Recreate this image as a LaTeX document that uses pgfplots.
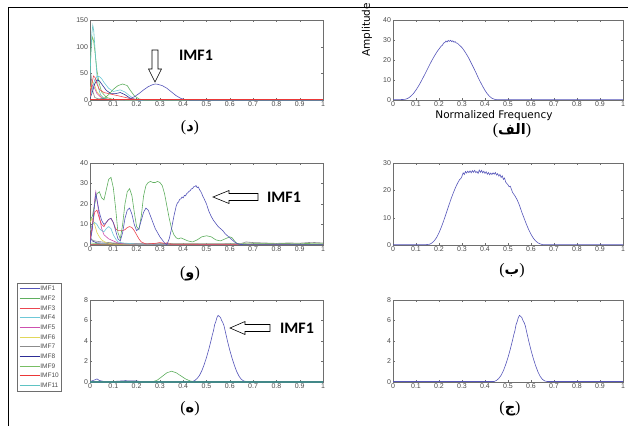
\documentclass[border=0pt]{standalone}
\usepackage{pgfplots}
\pgfplotsset{compat=1.18}
\usepackage{fontspec}
\setmainfont{Liberation Sans}
\newfontfamily\arabicfont[Script=Arabic]{DejaVu Sans}
\newfontfamily\carlito{Carlito}
\newfontfamily\dejavu{DejaVu Sans}
\newfontfamily\serif{Liberation Serif}
\TeXXeTstate=1

\definecolor{c1}{RGB}{85,85,185}
\definecolor{c2}{RGB}{95,175,95}
\definecolor{c3}{RGB}{235,70,80}
\definecolor{c4}{RGB}{110,200,215}
\definecolor{c5}{RGB}{205,80,175}
\definecolor{c6}{RGB}{225,215,90}
\definecolor{c7}{RGB}{140,140,140}
\definecolor{c8}{RGB}{45,45,150}
\definecolor{c9}{RGB}{120,190,100}
\definecolor{c10}{RGB}{235,55,55}
\definecolor{c11}{RGB}{95,195,195}
\definecolor{axgray}{RGB}{110,110,110}
\definecolor{lblgray}{RGB}{75,75,75}

\pgfplotsset{
  matlab/.style={
    scale only axis, anchor=north west,
    xmin=0, xmax=1,
    xtick={0,0.1,0.2,0.3,0.4,0.5,0.6,0.7,0.8,0.9,1},
    xticklabels={0,0.1,0.2,0.3,0.4,0.5,0.6,0.7,0.8,0.9,1},
    axis line style={draw=axgray, line width=0.4pt},
    tick style={draw=axgray, line width=0.3pt},
    major tick length=2.2pt,
    tick align=inside,
    tick label style={font=\fontsize{7}{8}\selectfont, text=lblgray},
    /pgf/number format/assume math mode=true,
    yticklabel style={xshift=1.5pt},
    xticklabel style={yshift=1.5pt},
  },
  wide/.style={width=233pt},
  right/.style={width=230pt},
}

% caption of a panel: (letter)
\newcommand{\fig}[1]{{\serif\fontsize{16}{18}\selectfont(}{\arabicfont\bfseries\fontsize{14.5}{16}\selectfont\beginR #1\endR}{\serif\fontsize{16}{18}\selectfont)}}

\begin{document}
\begin{tikzpicture}[x=1pt,y=1pt]
\useasboundingbox (0,0) rectangle (628,-426);
\draw[line width=1pt] (8,-426) -- (8,-7) -- (628,-7);

%% top left (د)
\begin{axis}[matlab, wide, at={(90pt,-20pt)}, height=80pt,
  ymin=0, ymax=150, ytick={0,50,100,150}]
\addplot[c7, line width=0.6pt] coordinates {(0,60)(0.005,45)(0.01,20)(0.02,5)(0.04,1)(0.1,0)(1,0)};
\addplot[c6, line width=0.6pt] coordinates {(0,20)(0.01,35)(0.02,28)(0.03,15)(0.05,5)(0.08,1)(0.12,0)(1,0)};
\addplot[c5, line width=0.6pt] coordinates {(0,10)(0.01,28)(0.02,22)(0.03,12)(0.05,4)(0.08,1)(0.12,0)(1,0)};
\addplot[c9, line width=0.6pt] coordinates {(0,50)(0.005,100)(0.01,118)(0.015,112)(0.02,95)(0.03,55)(0.04,30)(0.05,15)(0.07,5)(0.1,1)(0.15,0)(1,0)};
\addplot[c11, line width=0.6pt] coordinates {(0,40)(0.004,90)(0.008,125)(0.012,140)(0.016,130)(0.02,105)(0.025,75)(0.03,45)(0.035,25)(0.045,10)(0.06,3)(0.08,0.5)(0.12,0)(1,0)};
\addplot[c8, line width=0.6pt] coordinates {(0,3)(0.01,15)(0.02,30)(0.03,38)(0.04,36)(0.05,30)(0.07,18)(0.09,12)(0.11,12)(0.13,14)(0.15,10)(0.17,4)(0.19,1)(0.21,0)(1,0)};
\addplot[c4, line width=0.6pt] coordinates {(0,5)(0.01,20)(0.02,38)(0.03,44)(0.04,44)(0.05,40)(0.06,33)(0.08,22)(0.1,16)(0.12,18)(0.13,19)(0.15,15)(0.17,8)(0.19,2)(0.21,0)(1,0)};
\addplot[c3, line width=0.6pt] coordinates {(0,5)(0.008,30)(0.015,45)(0.022,42)(0.03,30)(0.04,20)(0.06,14)(0.08,12)(0.1,10)(0.12,8)(0.14,6)(0.17,3)(0.2,1)(0.25,0.3)(1,0.3)};
\addplot[c2, line width=0.6pt] coordinates {(0,0)(0.06,3)(0.08,10)(0.1,20)(0.12,27)(0.14,30)(0.16,27)(0.17,20)(0.19,8)(0.21,2)(0.23,0)(1,0)};
\addplot[c1, line width=0.6pt] coordinates {(0,0.5)(0.02,1)(0.05,2)(0.1,1)(0.15,0.5)(0.17,2)(0.19,6)(0.21,12)(0.23,19)(0.25,25)(0.27,29)(0.28,30)(0.29,29.5)(0.31,27)(0.33,22)(0.35,15)(0.37,8)(0.39,3)(0.41,0.5)(0.43,0)(1,0)};
\addplot[c10, line width=1.1pt] coordinates {(0,0.5)(0.1,0.5)(0.5,0.5)(1,0.5)};
\end{axis}

%% top right (الف)
\begin{axis}[matlab, right, at={(393pt,-20pt)}, height=80pt,
  ymin=0, ymax=40, ytick={0,10,20,30,40}]
\addplot[c1, line width=0.6pt] coordinates {(0,0.2)(0.03,0.2)(0.05,0.3)(0.06,0.6)(0.07,1.2)(0.08,2.2)(0.09,3.4)(0.1,5)(0.11,6.8)(0.12,8.8)(0.13,11)(0.14,13.2)(0.15,15.5)(0.16,17.8)(0.17,20)(0.18,22)(0.19,23.9)(0.2,25.5)(0.21,27)(0.215,27.4)(0.22,28.5)(0.225,28.7)(0.23,29.5)(0.235,29.0)(0.24,29.8)(0.245,29.3)(0.25,29.9)(0.255,29.2)(0.26,29.6)(0.265,28.9)(0.27,29.2)(0.275,28.5)(0.28,28.4)(0.29,27.3)(0.3,26.2)(0.31,24.6)(0.32,22.8)(0.33,20.8)(0.34,18.5)(0.35,16.2)(0.36,13.8)(0.37,11.3)(0.38,9)(0.39,6.8)(0.4,4.8)(0.41,3.1)(0.42,1.8)(0.43,0.9)(0.44,0.4)(0.45,0.2)(1,0.2)};
\end{axis}
\node[rotate=90, font=\dejavu\fontsize{10.5}{12}\selectfont] at (367,-30) {Amplitude};
\node[font=\dejavu\fontsize{10.5}{12}\selectfont] at (494,-116) {Normalized Frequency};

%% middle left (و)
\begin{axis}[matlab, wide, at={(90pt,-163pt)}, height=82pt,
  ymin=0, ymax=40, ytick={0,10,20,30,40}]
\addplot[c11, line width=0.6pt] coordinates {(0,0.2)(1,0.2)};
\addplot[c10, line width=0.6pt] coordinates {(0,0.3)(0.3,0.5)(0.33,1)(0.36,0.5)(1,0.3)};
\addplot[c9, line width=0.6pt] coordinates {(0,1)(0.05,0.5)(0.64,0.5)(0.68,1)(0.72,0.8)(0.8,0.7)(0.9,0.8)(1,0.6)};
\addplot[c8, line width=0.6pt] coordinates {(0,4)(0.01,2)(0.03,1)(0.1,0.8)(0.2,0.6)(0.3,0.3)(1,0.2)};
\addplot[c7, line width=0.6pt] coordinates {(0,3)(0.02,2)(0.05,1.5)(0.1,1)(0.2,0.6)(0.4,0.5)(0.6,0.6)(0.65,0.8)(0.67,1.5)(0.7,1.2)(0.75,1)(0.8,0.8)(0.85,1)(0.9,0.9)(0.95,1.3)(1,1)};
\addplot[c6, line width=0.6pt] coordinates {(0,11)(0.01,13)(0.02,10)(0.03,6)(0.04,4)(0.05,2.5)(0.07,1)(0.1,0.5)(1,0.3)};
\addplot[c5, line width=0.6pt] coordinates {(0,2)(0.01,8)(0.02,22)(0.025,26)(0.03,22)(0.04,14)(0.05,8)(0.06,5)(0.08,3)(0.1,2)(0.12,1)(0.15,0.5)(1,0.2)};
\addplot[c4, line width=0.6pt] coordinates {(0,7)(0.01,10)(0.02,11)(0.03,10)(0.04,8)(0.05,7)(0.06,6.5)(0.07,8)(0.08,9)(0.09,8)(0.1,5)(0.11,3)(0.12,1.5)(0.14,1)(0.2,0.5)(1,0.3)};
\addplot[c3, line width=0.6pt] coordinates {(0,2)(0.01,10)(0.02,16)(0.03,17)(0.04,13)(0.05,10)(0.06,9)(0.07,11)(0.08,12.5)(0.09,13)(0.1,11)(0.11,8)(0.12,7)(0.13,7)(0.14,7)(0.15,7.5)(0.16,8.5)(0.17,9)(0.18,8.5)(0.19,7)(0.2,5)(0.21,3)(0.22,1.5)(0.24,0.5)(0.28,0.8)(0.3,1.2)(0.32,0.8)(0.35,0.3)(0.5,0.3)(1,0.3)};
\addplot[c2, line width=0.6pt] coordinates {(0,12)(0.01,14)(0.02,20)(0.03,25)(0.04,26)(0.05,23)(0.06,22)(0.07,27)(0.08,32)(0.09,33)(0.1,28)(0.11,18)(0.12,6)(0.13,3)(0.14,10)(0.15,20)(0.16,26)(0.17,27.5)(0.18,24)(0.19,16)(0.2,9)(0.21,7.5)(0.22,14)(0.23,24)(0.24,29)(0.25,30.5)(0.26,31)(0.27,30.5)(0.28,30.5)(0.29,31)(0.3,30.5)(0.31,29)(0.32,25)(0.33,19)(0.34,13)(0.35,8)(0.36,5)(0.37,3.5)(0.38,3)(0.39,3.5)(0.4,3)(0.42,2)(0.44,1.5)(0.46,2.5)(0.48,4)(0.5,4.5)(0.52,4)(0.54,2.5)(0.56,2)(0.58,3)(0.6,4)(0.61,3.5)(0.62,2)(0.63,0.8)(0.65,0.3)(0.7,0.5)(1,0.3)};
\addplot[c1, line width=0.6pt] coordinates {(0,0.5)(0.01,8)(0.02,20)(0.025,25)(0.03,22)(0.04,16)(0.05,12)(0.06,10)(0.07,11)(0.08,12.5)(0.09,13)(0.1,11)(0.11,7)(0.12,3)(0.13,2)(0.14,6)(0.15,13)(0.16,17)(0.17,18)(0.18,15)(0.19,10)(0.2,7)(0.21,8)(0.22,12)(0.23,16)(0.24,18)(0.25,17)(0.26,14)(0.27,11)(0.28,8)(0.29,6)(0.3,4)(0.31,2.5)(0.32,1)(0.33,0.2)(0.34,3)(0.35,8)(0.36,14)(0.365,16.5)(0.37,19)(0.375,20.5)(0.38,21)(0.385,22.3)(0.39,22.5)(0.395,23.4)(0.4,23)(0.405,24.2)(0.41,24)(0.415,25.1)(0.42,25.5)(0.425,26.2)(0.43,26.5)(0.435,27.4)(0.44,27.5)(0.445,28.4)(0.45,28.5)(0.455,29)(0.46,28)(0.465,28.3)(0.47,27)(0.475,26.2)(0.48,25)(0.485,23.6)(0.49,22.5)(0.5,20)(0.51,16.5)(0.52,14)(0.53,12)(0.54,10.5)(0.55,9)(0.56,8)(0.57,7)(0.58,5.5)(0.59,4.5)(0.6,3.5)(0.61,2.5)(0.62,1.5)(0.63,0.8)(0.64,0.3)(0.66,0.2)(1,0.2)};
\end{axis}

%% middle right (ب)
\begin{axis}[matlab, right, at={(393pt,-163pt)}, height=82pt,
  ymin=0, ymax=30, ytick={0,10,20,30}]
\addplot[c1, line width=0.6pt] coordinates {(0,0.1)(0.14,0.1)(0.16,0.3)(0.17,0.8)(0.18,1.6)(0.19,2.8)(0.2,4.5)(0.21,6.5)(0.22,8.8)(0.23,11.3)(0.24,13.8)(0.25,16.3)(0.26,18.6)(0.27,20.7)(0.28,22.5)(0.29,24)(0.295,24.3)(0.3,25.2)(0.305,26.4)(0.31,25.8)(0.315,26.9)(0.32,26.3)(0.325,27)(0.33,26.5)(0.335,27.1)(0.34,26.4)(0.345,27.2)(0.35,26.6)(0.355,27.3)(0.36,26.5)(0.365,26.9)(0.37,26.2)(0.375,27.4)(0.38,26.6)(0.385,27.3)(0.39,26.4)(0.395,27)(0.4,26.2)(0.405,26.8)(0.41,25.9)(0.415,26.5)(0.42,25.7)(0.425,26.3)(0.43,25.8)(0.435,26.4)(0.44,25.9)(0.445,26.5)(0.45,25.6)(0.455,26.1)(0.46,25.2)(0.465,25.8)(0.47,24.7)(0.475,25.3)(0.48,24)(0.485,24.5)(0.49,23)(0.5,22)(0.505,21.3)(0.51,21.5)(0.52,19.2)(0.53,18)(0.54,16.5)(0.55,14.5)(0.56,12)(0.57,9.8)(0.58,7.6)(0.59,5.6)(0.6,3.9)(0.61,2.5)(0.62,1.5)(0.63,0.8)(0.64,0.4)(0.65,0.15)(1,0.1)};
\end{axis}

%% bottom left (ه)
\begin{axis}[matlab, wide, at={(90pt,-300pt)}, height=82pt,
  ymin=0, ymax=8, ytick={0,2,4,6,8}]
\addplot[c8, line width=0.6pt] coordinates {(0,0.03)(0.1,0.05)(0.15,0.12)(0.2,0.1)(0.22,0.03)(1,0.03)};
\addplot[c2, line width=0.6pt] coordinates {(0,0.02)(0.27,0.02)(0.29,0.2)(0.31,0.55)(0.33,0.9)(0.35,1.05)(0.37,0.9)(0.39,0.6)(0.41,0.3)(0.43,0.1)(0.45,0.02)(1,0.02)};
\addplot[c1, line width=0.6pt] coordinates {(0,0.05)(0.02,0.2)(0.03,0.3)(0.04,0.15)(0.06,0.05)(0.44,0.05)(0.45,0.15)(0.46,0.35)(0.47,0.65)(0.48,1.1)(0.49,1.7)(0.5,2.4)(0.51,3.2)(0.52,4.1)(0.525,4.6)(0.53,5.0)(0.535,5.6)(0.54,5.9)(0.545,6.3)(0.55,6.5)(0.555,6.4)(0.56,6.3)(0.565,6.0)(0.57,5.8)(0.575,5.5)(0.58,5.0)(0.59,4.0)(0.6,3.1)(0.61,2.3)(0.62,1.6)(0.63,1.0)(0.64,0.55)(0.65,0.25)(0.66,0.1)(0.67,0.05)(1,0.05)};
\addplot[c11!70!black, line width=1.1pt] coordinates {(0,0)(0.5,0)(1,0)};
\end{axis}

%% bottom right (ج)
\begin{axis}[matlab, right, at={(393pt,-300pt)}, height=82pt,
  ymin=0, ymax=8, ytick={0,2,4,6,8}]
\addplot[c1, line width=0.6pt] coordinates {(0,0.05)(0.44,0.05)(0.45,0.15)(0.46,0.35)(0.47,0.65)(0.48,1.1)(0.49,1.7)(0.5,2.4)(0.51,3.2)(0.52,4.1)(0.525,4.6)(0.53,5.0)(0.535,5.6)(0.54,5.9)(0.545,6.3)(0.55,6.5)(0.555,6.4)(0.56,6.3)(0.565,6.0)(0.57,5.8)(0.575,5.5)(0.58,5.0)(0.59,4.0)(0.6,3.1)(0.61,2.3)(0.62,1.6)(0.63,1.0)(0.64,0.55)(0.65,0.25)(0.66,0.1)(0.67,0.05)(1,0.05)};
\end{axis}

%% legend
\begin{axis}[at={(17pt,-283pt)}, anchor=north west, hide axis, scale only axis,
  width=10pt, height=10pt, xmin=0, xmax=1, ymin=0, ymax=1,
  legend style={at={(0,1)}, anchor=north west, draw=axgray, line width=0.4pt,
    font=\fontsize{6.5}{7}\selectfont, text=lblgray, inner sep=2pt,
    row sep=3.2pt, nodes={inner sep=0.6pt, text height=4.8pt, text depth=0.5pt}},
  legend cell align=left,
  legend image code/.code={\draw[#1] (0pt,0pt) -- (20pt,0pt);}]
\addlegendimage{c1, line width=0.6pt}\addlegendentry{IMF1}
\addlegendimage{c2, line width=0.6pt}\addlegendentry{IMF2}
\addlegendimage{c3, line width=0.6pt}\addlegendentry{IMF3}
\addlegendimage{c4, line width=0.6pt}\addlegendentry{IMF4}
\addlegendimage{c5, line width=0.6pt}\addlegendentry{IMF5}
\addlegendimage{c6, line width=0.6pt}\addlegendentry{IMF6}
\addlegendimage{c7, line width=0.6pt}\addlegendentry{IMF7}
\addlegendimage{c8, line width=0.6pt}\addlegendentry{IMF8}
\addlegendimage{c9, line width=0.6pt}\addlegendentry{IMF9}
\addlegendimage{c10, line width=0.6pt}\addlegendentry{IMF10}
\addlegendimage{c11, line width=0.6pt}\addlegendentry{IMF11}
\end{axis}

%% arrows and IMF1 labels
\draw[line width=0.6pt, fill=white] (152,-50) -- (158,-50) -- (158,-69) -- (161.5,-69) -- (155,-82) -- (148.5,-69) -- (152,-69) -- cycle;
\node[font=\carlito\bfseries\fontsize{16}{18}\selectfont] at (196,-55) {IMF1};
\draw[line width=0.6pt, fill=white] (213,-197) -- (229,-190.5) -- (229,-193.5) -- (258,-193.5) -- (258,-200.5) -- (229,-200.5) -- (229,-203.5) -- cycle;
\node[font=\carlito\bfseries\fontsize{16}{18}\selectfont] at (284,-197) {IMF1};
\draw[line width=0.6pt, fill=white] (230,-328) -- (245,-321.5) -- (245,-324.5) -- (270,-324.5) -- (270,-331.5) -- (245,-331.5) -- (245,-334.5) -- cycle;
\node[font=\carlito\bfseries\fontsize{16}{18}\selectfont] at (297,-328) {IMF1};

%% panel captions
\node at (190,-128) {\fig{د}};
\node at (512,-131) {\fig{الف}};
\node at (190,-274) {\fig{و}};
\node at (512,-271) {\fig{ب}};
\node at (190,-409) {\fig{ه}};
\node at (510,-409) {\fig{ج}};
\end{tikzpicture}
\end{document}
